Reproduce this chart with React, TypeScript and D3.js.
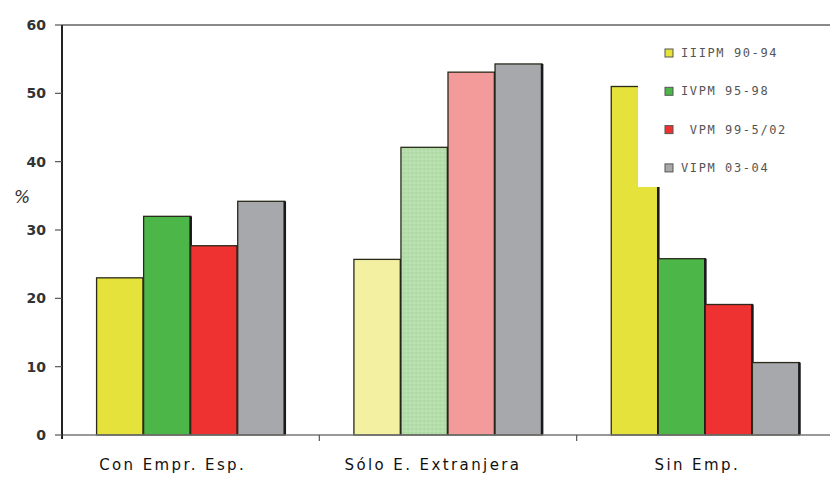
import React from "react";
import * as d3 from "d3";

const categories = ["Con Empr. Esp.", "Sólo E. Extranjera", "Sin Emp."];
const series = ["IIIPM 90-94", "IVPM 95-98", " VPM 99-5/02", "VIPM 03-04"];
const values: number[][] = [
  [23.0, 25.7, 51.0],
  [32.0, 42.1, 25.8],
  [27.7, 53.1, 19.1],
  [34.2, 54.3, 10.6],
];
const yTicks = [0, 10, 20, 30, 40, 50, 60];

const baseColors = ["#e6e23c", "#4cb748", "#ee3131", "#a6a8ab"];
const lightColors = ["#f4f0a2", "url(#hatchGreen)", "#f39a9a", "#a6a8ab"];
const legendColors = ["#e6e23c", "#4cb748", "#ee3131", "#a6a8ab"];

export default function App() {
  const W = 830, H = 485;
  const left = 62, right = 834, top = 25, bottom = 435;
  const y = d3.scaleLinear().domain([0, 60]).range([bottom, top]);
  const x0 = d3.scaleBand<string>().domain(categories).range([left, right]).paddingInner(0).paddingOuter(0);
  const x1 = d3.scaleBand<string>().domain(series).range([0, x0.bandwidth()]).paddingInner(0).paddingOuter(0.735);
  const labelShift = [-18, -15, -8];

  return (
    <svg width={W} height={H} style={{ position: "absolute", left: 0, top: 0, background: "#fff" }}>
      <defs>
        <pattern id="hatchGreen" width="4" height="4" patternUnits="userSpaceOnUse">
          <rect width="4" height="4" fill="#b5deac" />
          <circle cx="1" cy="1" r="0.7" fill="#9ccf92" />
          <circle cx="3" cy="3" r="0.7" fill="#c8e8c0" />
        </pattern>
      </defs>
      <line x1={left} x2={830} y1={top} y2={top} stroke="#8a8a8a" strokeWidth={2} />
      {categories.map((c, ci) => (
        <g key={c} transform={`translate(${x0(c)},0)`}>
          {series.map((s, si) => {
            const v = values[si][ci];
            const bx = x1(s)!;
            const bw = x1.bandwidth();
            const fill = ci === 1 ? lightColors[si] : baseColors[si];
            return (
              <g key={s}>
                <rect x={bx} y={y(v)} width={bw} height={bottom - y(v)} fill={fill} stroke="#2a2a1a" strokeWidth={1.3} />
                <line x1={bx + bw} x2={bx + bw} y1={y(v)} y2={bottom} stroke="#1a1a1a" strokeWidth={2.6} />
              </g>
            );
          })}
        </g>
      ))}
      <rect x={638} y={top + 1.5} width={192} height={187 - top - 1.5} fill="#fff" />
      {series.map((s, i) => {
        const ly = 53 + i * 38.3;
        return (
          <g key={s}>
            <rect x={665} y={ly - 4} width={8} height={8} fill={legendColors[i]} stroke="#555" strokeWidth={1} />
            <text x={681} y={ly + 4} fontFamily="DejaVu Sans Mono" fontSize={12} letterSpacing={1.6} fill="#555" style={{ whiteSpace: "pre" }}>{s}</text>
          </g>
        );
      })}
      <line x1={left} x2={830} y1={bottom} y2={bottom} stroke="#777" strokeWidth={1.5} />
      <line x1={left} x2={left} y1={top} y2={bottom + 4} stroke="#222" strokeWidth={2} />
      {yTicks.map((t) => (
        <g key={t}>
          <line x1={left - 7} x2={left} y1={y(t)} y2={y(t)} stroke="#555" strokeWidth={1.2} />
          <text x={46} y={y(t) + 5} textAnchor="end" fontFamily="DejaVu Sans" fontWeight="bold" fontSize={14} fill="#333">{t}</text>
        </g>
      ))}
      {categories.map((c) => (
        <line key={c} x1={x0(c)! + x0.bandwidth()} x2={x0(c)! + x0.bandwidth()} y1={bottom} y2={bottom + 6} stroke="#555" strokeWidth={1.2} />
      ))}
      <text x={14} y={203} fontFamily="DejaVu Sans" fontStyle="italic" fontSize={17} fill="#333">%</text>
      {categories.map((c, ci) => (
        <text key={c} x={x0(c)! + x0.bandwidth() / 2 + labelShift[ci]} y={470} textAnchor="middle" fontFamily="DejaVu Sans" fontSize={15} letterSpacing={2.4} fill="#111">{c}</text>
      ))}
    </svg>
  );
}
